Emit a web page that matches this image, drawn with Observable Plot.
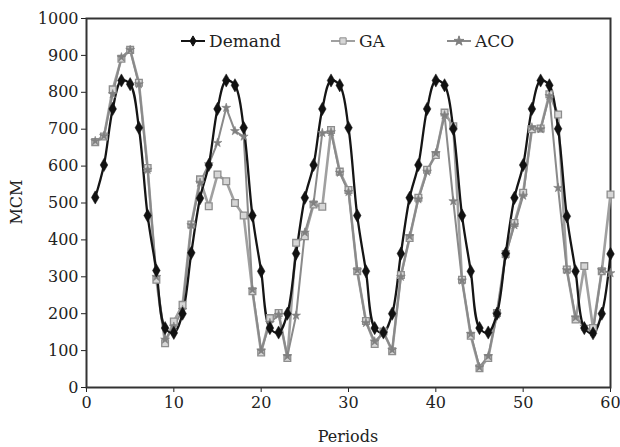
<!DOCTYPE html>
<html>
<head>
<meta charset="utf-8">
<script src="https://cdn.jsdelivr.net/npm/d3@7"></script>
<script src="https://cdn.jsdelivr.net/npm/@observablehq/plot@0.6"></script>
<style>
  html, body { margin: 0; padding: 0; background: #fff; }
  #wrap { position: relative; width: 620px; height: 447px; font-family: "DejaVu Serif", serif; color: #222; }
  #legend { position: absolute; left: 0; top: 0; width: 620px; height: 60px; pointer-events: none; font-size: 17px; }
  .item { position: absolute; top: 31px; display: flex; align-items: center; gap: 3px; }
  #xlabel { position: absolute; left: 86px; width: 524px; top: 427px; text-align: center; font-size: 16px; }
  #ylabel { position: absolute; left: 16px; top: 202px; font-size: 16px; transform: translate(-50%, -50%) rotate(-90deg); white-space: nowrap; }
</style>
</head>
<body>
<div id="wrap"><div id="legend"></div><div id="xlabel"></div><div id="ylabel"></div></div>
<script>
const periods = d3.range(1, 61);

const demand = [
  515, 603, 755, 832, 822, 704, 466, 317, 161, 148, 200, 365,
  513, 603, 755, 832, 819, 704, 466, 315, 161, 149, 200, 363,
  514, 603, 755, 832, 819, 704, 466, 315, 161, 149, 200, 363,
  514, 603, 755, 832, 819, 701, 466, 315, 161, 149, 200, 363,
  514, 603, 755, 832, 819, 701, 464, 315, 161, 147, 200, 362
];

const ga = [
  665, 680, 808, 891, 915, 826, 595, 292, 120, 179, 224, 442,
  564, 491, 577, 559, 500, 466, 261, 95, 188, 202, 80, 392,
  410, 496, 490, 698, 585, 535, 315, 180, 118, 152, 98, 305,
  405, 514, 590, 630, 745, 708, 292, 140, 52, 80, 202, 362,
  446, 528, 700, 702, 795, 740, 320, 184, 329, 161, 315, 523
];

const aco = [
  668, 682, 795, 895, 915, 822, 590, 300, 130, 165, 210, 440,
  555, 605, 663, 758, 695, 680, 265, 100, 175, 197, 85, 195,
  420, 500, 690, 692, 582, 530, 318, 175, 125, 148, 102, 300,
  410, 510, 585, 635, 738, 505, 290, 145, 55, 85, 198, 360,
  440, 520, 705, 700, 790, 541, 318, 190, 165, 150, 318, 310
];

const xTicks = [0, 10, 20, 30, 40, 50, 60];
const yTicks = [0, 100, 200, 300, 400, 500, 600, 700, 800, 900, 1000];
const seriesNames = ["Demand", "GA", "ACO"];
const xTitle = "Periods";
const yTitle = "MCM";

const rows = (vals) => periods.map((p, i) => ({period: p, value: vals[i]}));
const dDemand = rows(demand), dGA = rows(ga), dACO = rows(aco);

const chart = Plot.plot({
  width: 620,
  height: 447,
  marginLeft: 86,
  marginRight: 10,
  marginTop: 18,
  marginBottom: 60,
  style: {fontFamily: "DejaVu Serif, serif", fontSize: "16px", color: "#222", background: "#fff"},
  x: {domain: [0, 60], ticks: xTicks, tickFormat: d => String(d), tickSize: 5, tickPadding: 4, label: null},
  y: {domain: [0, 1000], ticks: yTicks, tickFormat: d => String(d), tickSize: 5, tickPadding: 3, label: null},
  marks: [
    Plot.frame({stroke: "#333", strokeWidth: 2}),
    Plot.line(dGA, {x: "period", y: "value", stroke: "#a0a0a0", strokeWidth: 2.6}),
    Plot.line(dACO, {x: "period", y: "value", stroke: "#8a8a8a", strokeWidth: 2}),
    Plot.line(dDemand, {x: "period", y: "value", stroke: "#151515", strokeWidth: 2.3, curve: "catmull-rom"}),
    Plot.dot(dGA, {x: "period", y: "value", symbol: "square", r: 3.8, fill: "#d6d6d6", stroke: "#8d8d8d", strokeWidth: 1.3}),
    Plot.dot(dACO, {x: "period", y: "value", symbol: "star", r: 2.8, fill: "#808080", stroke: "#808080", strokeWidth: 0.6}),
    Plot.dot(dDemand, {x: "period", y: "value", symbol: "diamond", r: 4, fill: "#111", stroke: "#111", strokeWidth: 0.5})
  ]
});
chart.style.position = "absolute";
chart.style.left = "0";
chart.style.top = "0";
const wrap = document.getElementById("wrap");
wrap.insertBefore(chart, wrap.firstChild);

document.getElementById("xlabel").textContent = xTitle;
document.getElementById("ylabel").textContent = yTitle;

// legend (HTML overlay inside the plot frame)
const legend = document.getElementById("legend");
const legendSpec = [
  {name: seriesNames[0], left: 180, line: "#151515", sym: "diamond", fill: "#111", stroke: "#111"},
  {name: seriesNames[1], left: 330, line: "#a0a0a0", sym: "square", fill: "#d6d6d6", stroke: "#8d8d8d"},
  {name: seriesNames[2], left: 446, line: "#8a8a8a", sym: "star", fill: "#808080", stroke: "#808080"}
];
const symbolMap = {diamond: d3.symbolDiamond, square: d3.symbolSquare, star: d3.symbolStar};
for (const s of legendSpec) {
  const item = document.createElement("div");
  item.className = "item";
  item.style.left = s.left + "px";
  const svg = d3.create("svg").attr("width", 26).attr("height", 14);
  svg.append("line").attr("x1", 1).attr("x2", 25).attr("y1", 7).attr("y2", 7)
     .attr("stroke", s.line).attr("stroke-width", 2);
  svg.append("path").attr("transform", "translate(13,7)")
     .attr("d", d3.symbol(symbolMap[s.sym], s.sym === "square" ? 40 : 30)())
     .attr("fill", s.fill).attr("stroke", s.stroke).attr("stroke-width", 1);
  item.appendChild(svg.node());
  const t = document.createElement("span");
  t.textContent = s.name;
  item.appendChild(t);
  legend.appendChild(item);
}
</script>
</body>
</html>
